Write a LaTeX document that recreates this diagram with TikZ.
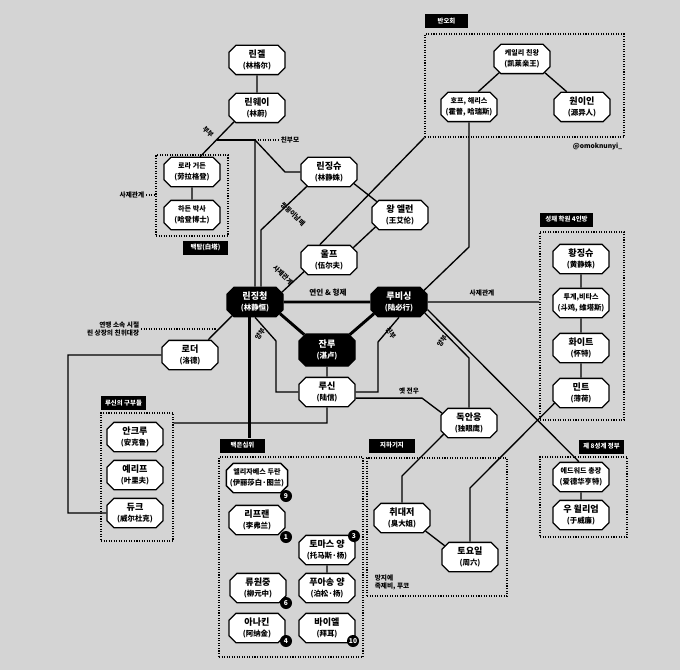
\documentclass[tikz,border=0pt]{standalone}
\usepackage{fontspec}
\setmainfont{Noto Sans CJK KR}
\usetikzlibrary{shapes.misc,calc}

\definecolor{bggrey}{RGB}{212,212,212}

\tikzset{every picture/.style={line width=0.75pt}}
\tikzset{
  person/.style={chamfered rectangle, chamfered rectangle sep=2.6pt, draw, line width=1pt,
    fill=white, minimum width=42pt, minimum height=22pt, inner sep=0pt, align=center,
    font=\bfseries\fontsize{6.8}{8}\selectfont},
  keyperson/.style={person, fill=black, text=white},
  grpbox/.style={draw, line width=0.8pt, dash pattern=on 0.8pt off 1.1pt, inner sep=0pt},
  grplabel/.style={fill=black, text=white, inner xsep=3pt, inner ysep=0pt, minimum height=10.5pt,
    font=\bfseries\fontsize{4.8}{5}\selectfont},
  rel/.style={inner sep=1pt, font=\bfseries\fontsize{5}{6}\selectfont},
  badge/.style={circle, fill=black, text=white, minimum size=9pt, inner sep=0pt,
    font=\bfseries\fontsize{5}{5}\selectfont},
  link/.style={line width=1pt},
  strong/.style={line width=2.2pt},
  dots/.style={line width=0.8pt, dash pattern=on 0.8pt off 1.1pt},
}
\newcommand{\pname}[2]{#1\\{\fontsize{5.6}{8}\selectfont(#2)}}
\newcommand{\pnamesm}[2]{{\fontsize{5.3}{8}\selectfont #1}\\{\fontsize{5.5}{8}\selectfont(#2)}}

\begin{document}
\begin{tikzpicture}[x=0.75pt,y=0.75pt,yscale=-1]
	\fill[bggrey] (0,0) rectangle (680,670);
	\useasboundingbox (0,0) rectangle (680,670);

	% groups
	\node[grpbox, minimum width=149.25pt, minimum height=77.25pt] (banohoe) at (524.5,85.5) {};
	\node[grpbox, minimum width=54pt, minimum height=60.75pt] (baektap) at (192,195.5) {};
	\node[grpbox, minimum width=63pt, minimum height=141pt] (seongchae) at (582,326) {};
	\node[grpbox, minimum width=65.25pt, minimum height=60pt] (gov8) at (583.5,497) {};
	\node[grpbox, minimum width=54pt, minimum height=96pt] (gubu) at (137,477) {};
	\node[grpbox, minimum width=108pt, minimum height=150pt] (baekeun) at (291,557) {};
	\node[grpbox, minimum width=105pt, minimum height=103.5pt] (jiha) at (437,527) {};

	\node[grplabel, minimum width=32pt] (banolab) at (446.5,21.5) {반오회};
	\node[grplabel, minimum width=34pt] (baektaplab) at (205.5,247.5) {백탑(白塔)};
	\node[grplabel, minimum width=40pt] (seonglab) at (566.5,219.5) {성채 학원 4인방};
	\node[grplabel, minimum width=34pt] (govlab) at (601.5,446.5) {제 8성계 정부};
	\node[grplabel, minimum width=34pt] (gubulab) at (123.5,403) {루신의 구부들};
	\node[grplabel, minimum width=34pt] (beslab) at (242.5,445.5) {백은십위};
	\node[grplabel, minimum width=34pt] (jihalab) at (392,445.5) {지하기지};

	% people
	\node[person] (lingel) at (257,60) {\pname{린겔}{林格尔}};
	\node[person] (linwei) at (257,108) {\pname{린웨이}{林蔚}};
	\node[person] (laura) at (192,172) {\pnamesm{로라 거든}{劳拉格登}};
	\node[person] (harden) at (192,215) {\pnamesm{하든 박사}{哈登博士}};
	\node[person] (ljs) at (329,172) {\pname{린징슈}{林静姝}};
	\node[person] (wang) at (400,215) {\pname{왕 엘런}{王艾伦}};
	\node[person] (wolf) at (329,260) {\pname{울프}{伍尔夫}};
	\node[keyperson] (ljh) at (255,302) {\pname{린징청}{林静恒}};
	\node[keyperson] (lbx) at (399,302) {\pname{루비싱}{陆必行}};
	\node[keyperson, minimum height=24pt] (zhanlu) at (327,350) {\pname{잔루}{湛卢}};
	\node[person] (luxin) at (327,392) {\pname{루신}{陆信}};
	\node[person] (dyy) at (469,423) {\pname{독안응}{独眼鹰}};
	\node[person] (cdj) at (402,518) {\pname{취대저}{臭大姐}};
	\node[person] (zhouliu) at (470,557) {\pname{토요일}{周六}};
	\node[person] (lode) at (190,355) {\pname{로더}{洛德}};
	\node[person] (ankelu) at (135,437) {\pname{안크루}{安克鲁}};
	\node[person] (yelifu) at (135,475) {\pname{예리프}{叶里夫}};
	\node[person] (duke) at (135,513) {\pname{듀크}{威尔杜克}};
	\node[person] (hjs) at (581,259) {\pname{황징슈}{黄静姝}};
	\node[person] (douji) at (581,303) {\pnamesm{투계,비타스}{斗鸡, 维塔斯}};
	\node[person] (white) at (581,348) {\pname{화이트}{怀特}};
	\node[person] (mint) at (581,393) {\pname{민트}{薄荷}};
	\node[person] (edward) at (581,477) {\pnamesm{에드워드 총장}{爱德华亨特}};
	\node[person] (william) at (581,515) {\pname{우 윌리엄}{于威廉}};
	\node[person] (kaile) at (522,59) {\pnamesm{케일리 친왕}{凯莱亲王}};
	\node[person] (hope) at (469,107) {\pnamesm{호프, 해리스}{霍普, 哈瑞斯}};
	\node[person] (yuanyi) at (582,107) {\pname{원이인}{源异人}};
	\node[person] (eliz) at (257,478) {\pnamesm{엘리자베스 두란}{伊丽莎白·图兰}};
	\node[person] (fulan) at (257,520) {\pname{리프랜}{李弗兰}};
	\node[person] (thomas) at (327,550) {\pname{토마스 양}{托马斯·杨}};
	\node[person] (poisson) at (327,588) {\pname{푸아송 양}{泊松·杨}};
	\node[person] (liuyz) at (258,588) {\pname{류원중}{柳元中}};
	\node[person] (anakin) at (257,628) {\pname{아나킨}{阿纳金}};
	\node[person] (baier) at (327,628) {\pname{바이엘}{拜耳}};

	% relation texts
	\node[rel, rotate=-46] (bubu) at (208,132) {부부};
	\node[rel, anchor=west] (chinbumo) at (279,140) {친부모};
	\node[rel, rotate=-44] (twinlab) at (293,214) {쌍둥이남매};
	\node[rel, rotate=-44] (sajewolf) at (283,275) {사제관계};
	\node[rel, font=\bfseries\fontsize{5.7}{6}\selectfont] (yeonin) at (328,293) {연인 \& 형제};
	\node[rel] (sajelbx) at (482,293) {사제관계};
	\node[rel, rotate=55] (yangbu1) at (260,334) {양부};
	\node[rel, rotate=-55] (chinbu) at (391,333) {친부};
	\node[rel, rotate=55] (yangbu2) at (442,341) {양부};
	\node[rel] (jeonwoo) at (409,391) {옛 전우};
	\node[rel, anchor=east] (sajebt) at (146,195) {사제관계};
	\node[rel, anchor=east, align=right] (yeonmaeng) at (141,329) {연맹 소속 시절\\린 상장의 친위대장};
	\node[rel, anchor=east] (handle) at (624,146) {@omoknunyi\_};
	\node[rel, anchor=west, align=left] (mangja) at (373,582) {망지에\\족제비, 푸코};

	% family lines
	\coordinate (pj) at (217,140);
	\coordinate (pk) at (255,140);
	\coordinate (pm) at (285,172);
	\coordinate (twin) at (261,230);
	\draw[link] (lingel) -- (linwei);
	\draw[link] (linwei.211) -- (laura.62);
	\draw[link] (pj) -- (pk);
	\draw[link] (pk) -- (ljh);
	\draw[link] (pk) -- (pm) -- (ljs);
	\draw[dots] (pk) -- (chinbumo);
	\draw[link] (ljs.213) -- (twin) -- (twin |- ljh.north);
	\draw[link] (laura) -- (harden);
	\draw[dots] (sajebt) -- (sajebt -| baektap.west);

	% upper right
	\coordinate (hb) at (469,247);
	\draw[link] (ljs.335) -- (wang.150);
	\draw[link] (wang.206) -- (wolf.27);
	\draw[link] (wolf.121) -- (banohoe.south west);
	\draw[link] (wolf.205) -- (ljh.20);
	\draw[link] (kaile.211) -- (hope.59);
	\draw[link] (kaile.329) -- (yuanyi.135);
	\draw[link] (hope) -- (hb) -- (lbx.25);

	% centre
	\coordinate (yb1) at (276,341);
	\coordinate (yb2) at (276,392);
	\coordinate (cb1) at (378,342);
	\coordinate (cb2) at (378,392);
	\coordinate (ow) at (422,398);
	\coordinate (yb3) at (469,358);
	\draw[strong] (ljh) -- (lbx);
	\draw[strong] (ljh.335) -- (zhanlu.146);
	\draw[strong] (zhanlu.34) -- (lbx.205);
	\draw[link] (zhanlu) -- (luxin);
	\draw[link] (ljh.south) -- (yb1) -- (yb2) -- (luxin);
	\draw[link] (lbx.south) -- (cb1) -- (cb2) -- (luxin);
	\draw[link] (luxin.348) -- (luxin.348 -| ow) -- (dyy.160);
	\draw[link] (lbx.337) -- (yb3) -- (dyy);
	\draw[link] (lbx.345) -- (edward.98);
	\draw[link] (lbx) -- (lbx -| seongchae.west);

	% academy and government
	\draw[link] (hjs) -- (douji);
	\draw[link] (douji) -- (white);
	\draw[link] (white) -- (mint);
	\draw[link] (edward) -- (william);

	% base
	\coordinate (tb) at (470,488);
	\coordinate (qb) at (402,476);
	\draw[link] (mint.201) -- (tb) -- (zhouliu);
	\draw[link] (dyy.204) -- (qb) -- (cdj);
	\draw[link] (cdj.331) -- (zhouliu.156);

	% left side
	\coordinate (ld1) at (68,355);
	\coordinate (ld2) at (68,513);
	\coordinate (ydot) at (216,329);
	\coordinate (lx1) at (327,423);
	\draw[link] (ljh.211) -- (lode.40);
	\draw[dots] (yeonmaeng) -- (ydot);
	\draw[link] (lode) -- (ld1) -- (ld2) -- (duke);
	\draw[link] (luxin) -- (lx1) -- (lx1 -| gubu.east);
	\draw[strong] (ljh.249) -- (ljh.249 |- beslab.north);

	% silver ten
	\draw[link] (thomas) -- (poisson);
	\node[badge] (b9) at (286,496) {9};
	\node[badge] (b1) at (286,537) {1};
	\node[badge] (b3) at (354,536) {3};
	\node[badge] (b6) at (286,603) {6};
	\node[badge] (b4) at (286,641) {4};
	\node[badge] (b10) at (353,641) {10};

\end{tikzpicture}
\end{document}
